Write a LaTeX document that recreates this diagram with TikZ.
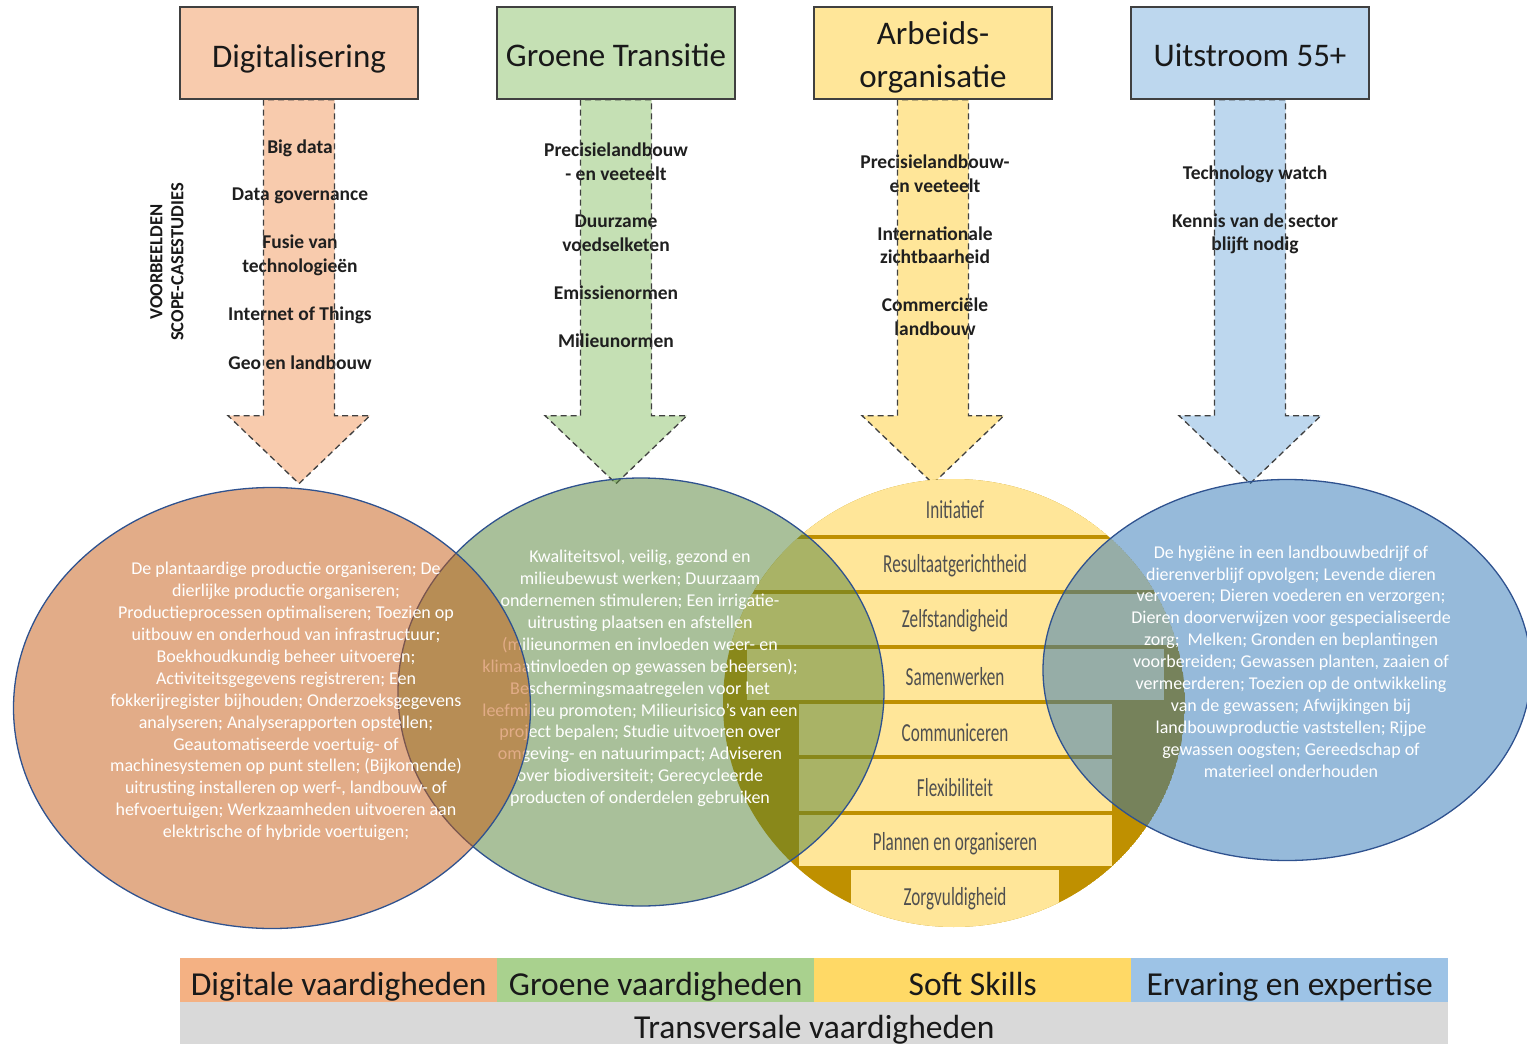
\documentclass[tikz,border=0pt]{standalone}
\usepackage{fontspec}
\setmainfont{Carlito}
\newfontfamily\condfont[FakeStretch=0.66]{Carlito}
\usetikzlibrary{shapes.geometric}

\definecolor{hdrline}{HTML}{404040}
\definecolor{dashgray}{HTML}{404040}
\definecolor{peach}{HTML}{F8CBAD}
\definecolor{mint}{HTML}{C5E0B4}
\definecolor{butter}{HTML}{FFE699}
\definecolor{sky}{HTML}{BDD7EE}
\definecolor{gold}{HTML}{BF9000}
\definecolor{bartext}{HTML}{505050}
\definecolor{ellorange}{HTML}{C55A11}
\definecolor{ellgreen}{HTML}{548235}
\definecolor{ellblue}{HTML}{2E75B6}
\definecolor{rimblue}{HTML}{2F528F}
\definecolor{cellorange}{HTML}{F4B183}
\definecolor{cellgreen}{HTML}{A9D18E}
\definecolor{cellyellow}{HTML}{FFD966}
\definecolor{cellblue}{HTML}{9DC3E6}
\definecolor{cellgray}{HTML}{D9D9D9}

\tikzset{
  hdr/.style={draw=hdrline, line width=1.3pt, minimum width=238pt, minimum height=92pt,
    inner sep=0pt},
  hdrtxt/.style={align=center, text=black!90, inner sep=0pt,
    font=\fontsize{33}{43}\selectfont},
  arrowtxt/.style={align=center, text=black!88, inner sep=0pt,
    font=\bfseries\fontsize{19.5}{23.5}\selectfont},
  blockarrow/.style={insert path={([xshift=-35.5pt]#1.south) -- ++(0,316) -- ++(-35.5,0)
    -- ++(71,68) -- ++(71,-68) -- ++(-35.5,0) -- ++(0,-316) -- cycle}},
  dashedrim/.style={draw=dashgray, line width=1.3pt, dash pattern=on 6pt off 4pt},
  venn/.style={ellipse, inner sep=0pt, draw=rimblue, line width=1.3pt, fill opacity=0.5},
  venntxt/.style={align=center, text=white, inner sep=0pt,
    font=\fontsize{18}{21.9}\selectfont},
  skill/.style={text=bartext, inner sep=0pt, font=\condfont\fontsize{26}{30}\selectfont},
  cell/.style={minimum width=317pt, minimum height=44pt, inner sep=0pt, text=black!90,
    text height=32pt, text depth=2pt, font=\fontsize{33.5}{36}\selectfont},
}

\begin{document}
\begin{tikzpicture}[x=1pt,y=-1pt]
\useasboundingbox (0,0) rectangle (1527,1044);
\clip (0,0) rectangle (1527,1044);

% bottom legend
\node[cell, fill=cellorange, anchor=north west] (c1) at (180,958) {Digitale vaardigheden};
\node[cell, fill=cellgreen,  anchor=north west] (c2) at (497,958) {Groene vaardigheden};
\node[cell, fill=cellyellow, anchor=north west] (c3) at (814,958) {Soft Skills};
\node[cell, fill=cellblue,   anchor=north west] (c4) at (1131,958) {Ervaring en expertise};
\node[cell, fill=cellgray, minimum width=1268pt, text height=30pt, anchor=north west]
  (tv) at (180,1002) {Transversale vaardigheden};

% header box positions (boxes are drawn over the arrows further down)
\coordinate (p1) at (299,53);
\coordinate (p2) at (616,53);
\coordinate (p3) at (933,53);
\coordinate (p4) at (1250,53);
\path (p1) node[hdr, draw=none] (h1) {};
\path (p2) node[hdr, draw=none] (h2) {};
\path (p3) node[hdr, draw=none] (h3) {};
\path (p4) node[hdr, draw=none] (h4) {};

% block arrows: fill
\fill[peach]  [blockarrow=h1];
\fill[mint]   [blockarrow=h2];
\fill[butter] [blockarrow=h3];
\fill[sky]    [blockarrow=h4];

% arrow labels
\node[arrowtxt] (a11) at (300,148) {Big data};
\node[arrowtxt] (a12) at (300,196) {Data governance};
\node[arrowtxt] (a13) at (300,255.5) {Fusie van\\technologieën};
\node[arrowtxt] (a14) at (300,315) {Internet of Things};
\node[arrowtxt] (a15) at (300,363) {Geo en landbouw};

\node[arrowtxt] (a21) at (616,161.5) {Precisielandbouw\\- en veeteelt};
\node[arrowtxt] (a22) at (616,233) {Duurzame\\voedselketen};
\node[arrowtxt] (a23) at (616,293) {Emissienormen};
\node[arrowtxt] (a24) at (616,341) {Milieunormen};

\node[arrowtxt] (a31) at (935,173.5) {Precisielandbouw-\\en veeteelt};
\node[arrowtxt] (a32) at (935,245) {Internationale\\zichtbaarheid};
\node[arrowtxt] (a33) at (935,316.5) {Commerciële\\landbouw};

\node[arrowtxt] (a41) at (1255,174) {Technology watch};
\node[arrowtxt] (a42) at (1255,234) {Kennis van de sector\\blijft nodig};

% block arrows: dashed outlines
\draw[dashedrim] [blockarrow=h1];
\draw[dashedrim] [blockarrow=h2];
\draw[dashedrim] [blockarrow=h3];
\draw[dashedrim] [blockarrow=h4];

% header boxes
\node[hdr, fill=peach]  (d1) at (p1) {};
\node[hdr, fill=mint]   (d2) at (p2) {};
\node[hdr, fill=butter] (d3) at (p3) {};
\node[hdr, fill=sky]    (d4) at (p4) {};
\node[hdrtxt, anchor=base] (l1) at ([yshift=-14pt]d1.center) {Digitalisering};
\node[hdrtxt, anchor=base] (l2) at ([yshift=-13pt]d2.center) {Groene Transitie};
\node[hdrtxt] (l3) at ([yshift=-4pt]d3.center) {Arbeids-\\organisatie};
\node[hdrtxt, anchor=base] (l4) at ([yshift=-13pt]d4.center) {Uitstroom 55+};

% side caption
\node[rotate=90, align=center, inner sep=0pt, text=black!90,
  font=\bfseries\fontsize{18.5}{21}\selectfont] (cap) at (167,262)
  {VOORBEELDEN\\SCOPE-CASESTUDIES};

% soft skills disc with stacked bars
\coordinate (yc) at (954,703);
\begin{scope}
  \clip (yc) ellipse (231pt and 224pt);
  \fill[gold] (yc) ellipse (231pt and 224pt);
  \fill[butter] (690,470) rectangle (1220,535);
  \fill[butter] (690,539) rectangle (1220,590);
  \fill[butter] (690,594) rectangle (1220,645);
  \fill[butter] (747,649) rectangle (1164,700);
  \fill[butter] (799,704) rectangle (1112,755);
  \fill[butter] (799,759) rectangle (1112,811);
  \fill[butter] (799,815) rectangle (1112,866);
  \fill[butter] (851,870) rectangle (1059,940);
\end{scope}
\node[skill] (s1) at (955,510) {Initiatief};
\node[skill] (s2) at (955,566) {Resultaatgerichtheid};
\node[skill] (s3) at (955,621) {Zelfstandigheid};
\node[skill] (s4) at (955,677) {Samenwerken};
\node[skill] (s5) at (955,733) {Communiceren};
\node[skill] (s6) at (955,788) {Flexibiliteit};
\node[skill] (s7) at (955,844) {Plannen en organiseren};
\node[skill] (s8) at (955,899) {Zorgvuldigheid};

% green transition ellipse
\node[venn, fill=ellgreen, minimum width=486pt, minimum height=428pt] (eg) at (641,692) {};
\node[venntxt] (tg) at (640,678.5) {Kwaliteitsvol, veilig, gezond en\\
milieubewust werken; Duurzaam\\
ondernemen stimuleren; Een irrigatie-\\
uitrusting plaatsen en afstellen\\
(milieunormen en invloeden weer- en\\
klimaatinvloeden op gewassen beheersen);\\
Beschermingsmaatregelen voor het\\
leefmilieu promoten; Milieurisico's van een\\
project bepalen; Studie uitvoeren over\\
omgeving- en natuurimpact; Adviseren\\
over biodiversiteit; Gerecycleerde\\
producten of onderdelen gebruiken};

% digital ellipse
\node[venn, fill=ellorange, minimum width=517pt, minimum height=441pt] (eo) at (272,708) {};
\node[venntxt] (to) at (286,701.5) {De plantaardige productie organiseren; De\\
dierlijke productie organiseren;\\
Productieprocessen optimaliseren; Toezien op\\
uitbouw en onderhoud van infrastructuur;\\
Boekhoudkundig beheer uitvoeren;\\
Activiteitsgegevens registreren; Een\\
fokkerijregister bijhouden; Onderzoeksgegevens\\
analyseren; Analyserapporten opstellen;\\
Geautomatiseerde voertuig- of\\
machinesystemen op punt stellen; (Bijkomende)\\
uitrusting installeren op werf-, landbouw- of\\
hefvoertuigen; Werkzaamheden uitvoeren aan\\
elektrische of hybride voertuigen;};

% experience ellipse
\node[venn, fill=ellblue, minimum width=488pt, minimum height=381pt] (eb) at (1287,670) {};
\node[venntxt] (tb) at (1291,661.5) {De hygiëne in een landbouwbedrijf of\\
dierenverblijf opvolgen; Levende dieren\\
vervoeren; Dieren voederen en verzorgen;\\
Dieren doorverwijzen voor gespecialiseerde\\
zorg;\ \ Melken; Gronden en beplantingen\\
voorbereiden; Gewassen planten, zaaien of\\
vermeerderen; Toezien op de ontwikkeling\\
van de gewassen; Afwijkingen bij\\
landbouwproductie vaststellen; Rijpe\\
gewassen oogsten; Gereedschap of\\
materieel onderhouden};
\end{tikzpicture}
\end{document}
